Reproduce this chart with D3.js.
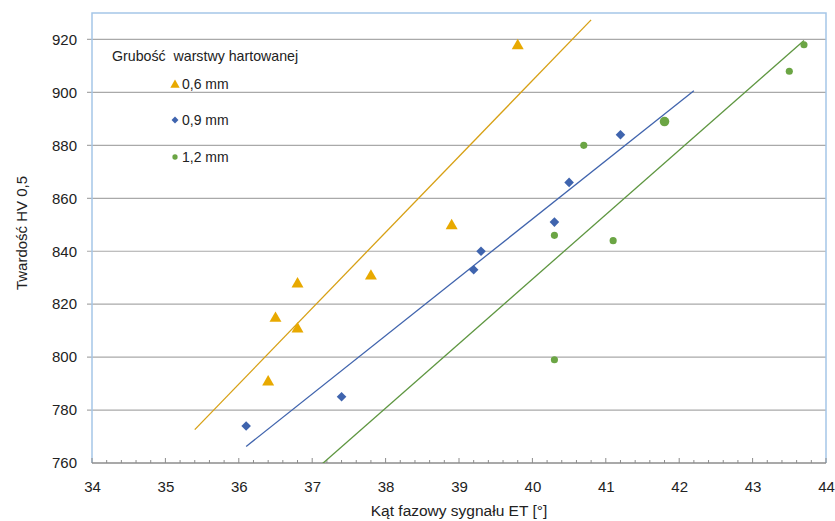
<!DOCTYPE html>
<html>
<head>
<meta charset="utf-8">
<script src="https://cdn.jsdelivr.net/npm/d3@7"></script>
<style>
  html, body { margin: 0; padding: 0; background: #fff; }
  svg { display: block; font-family: "Liberation Sans", Arial, sans-serif; }
</style>
</head>
<body>
<svg id="chart" width="835" height="521"></svg>
<script>
// Phase angle of the eddy-current signal vs. hardness, grouped by hardened layer depth
const seriesNames = ["0,6 mm", "0,9 mm", "1,2 mm"];

const angle06 = [39.8, 38.9, 37.8, 36.8, 36.5, 36.8, 36.4];
const hard06  = [918, 850, 831, 828, 815, 811, 791];

const angle09 = [36.1, 37.4, 39.2, 39.3, 40.3, 40.5, 41.2];
const hard09  = [774, 785, 833, 840, 851, 866, 884];

const angle12 = [40.3, 40.3, 40.7, 41.1, 41.8, 43.5, 43.7];
const hard12  = [799, 846, 880, 844, 889, 908, 918];

const xTicks = [34, 35, 36, 37, 38, 39, 40, 41, 42, 43, 44];
const yTicks = [760, 780, 800, 820, 840, 860, 880, 900, 920];

// Trendline extension (backward / forward) in degrees
const trendBackward = [1.0, 0.0, 4.0];
const trendForward  = [1.0, 1.0, 0.0];

const legendTitle = "Grubość  warstwy hartowanej";
const xTitle = "Kąt fazowy sygnału ET [°]";
const yTitle = "Twardość HV 0,5";

const W = 835, H = 521;
const margin = { left: 92, right: 9, top: 13, bottom: 58 };
const x = d3.scaleLinear().domain([34, 44]).range([margin.left, W - margin.right]);
const y = d3.scaleLinear().domain([760, 930]).range([H - margin.bottom, margin.top]);

const svg = d3.select("#chart");

const markerColors = ["#E8A900", "#3F64AE", "#6BA544"];
const lineColors   = ["#D7A014", "#4064AD", "#5E9640"];
const symbols = [d3.symbolTriangle, d3.symbolSquare, d3.symbolCircle];
const symbolRotation = [0, 45, 0];
const symbolSizes = [62, 46, 40];
const bigCircleArea = 72;

const series = [
  { name: seriesNames[0], xs: angle06, ys: hard06 },
  { name: seriesNames[1], xs: angle09, ys: hard09 },
  { name: seriesNames[2], xs: angle12, ys: hard12 }
];

// Horizontal gridlines
svg.append("g")
  .selectAll("line")
  .data(yTicks.slice(1))
  .join("line")
  .attr("x1", x.range()[0] - 5)
  .attr("x2", x.range()[1])
  .attr("y1", d => y(d))
  .attr("y2", d => y(d))
  .attr("stroke", "#A9A9A9")
  .attr("stroke-width", 1.2);

// Plot frame (left, top, right)
svg.append("path")
  .attr("d", `M${x.range()[0]},${y.range()[0]} V${y.range()[1]} H${x.range()[1]} V${y.range()[0]}`)
  .attr("fill", "none")
  .attr("stroke", "#A5C6E8")
  .attr("stroke-width", 1.5);

// Y-axis labels
const yAxis = d3.axisLeft(y).tickValues(yTicks).tickSize(0).tickPadding(15);
const gy = svg.append("g").attr("transform", `translate(${x.range()[0]},0)`).call(yAxis);
gy.select(".domain").remove();
gy.selectAll("text").attr("font-size", 15).attr("fill", "#222")
  .attr("font-family", "'Liberation Sans', Arial, sans-serif");

// X-axis with major and minor ticks pointing inward
const xMinor = d3.range(34, 44.001, 0.2).map(v => +v.toFixed(1));
svg.append("g")
  .selectAll("line")
  .data(xMinor)
  .join("line")
  .attr("x1", d => x(d)).attr("x2", d => x(d))
  .attr("y1", y.range()[0])
  .attr("y2", d => y.range()[0] - (Number.isInteger(d) ? 5 : 3))
  .attr("stroke", "#8C8C8C")
  .attr("stroke-width", 1);

svg.append("line")
  .attr("x1", x.range()[0]).attr("x2", x.range()[1])
  .attr("y1", y.range()[0]).attr("y2", y.range()[0])
  .attr("stroke", "#8C8C8C")
  .attr("stroke-width", 1.5);

const xAxis = d3.axisBottom(x).tickValues(xTicks).tickSize(0).tickPadding(18);
const gx = svg.append("g").attr("transform", `translate(0,${y.range()[0]})`).call(xAxis);
gx.select(".domain").remove();
gx.selectAll("text").attr("font-size", 15).attr("fill", "#222")
  .attr("font-family", "'Liberation Sans', Arial, sans-serif");

// Axis titles
svg.append("text")
  .attr("x", (x.range()[0] + x.range()[1]) / 2)
  .attr("y", 516)
  .attr("text-anchor", "middle")
  .attr("font-size", 15.5)
  .attr("fill", "#222")
  .text(xTitle);

svg.append("text")
  .attr("transform", "translate(27,233) rotate(-90)")
  .attr("text-anchor", "middle")
  .attr("font-size", 15)
  .attr("fill", "#222")
  .text(yTitle);

// Clip for trendlines
svg.append("clipPath").attr("id", "plotClip")
  .append("rect")
  .attr("x", x.range()[0]).attr("y", y.range()[1])
  .attr("width", x.range()[1] - x.range()[0])
  .attr("height", y.range()[0] - y.range()[1]);

// Least-squares linear trendlines
function linearFit(xs, ys) {
  const mx = d3.mean(xs), my = d3.mean(ys);
  let sxy = 0, sxx = 0;
  xs.forEach((v, i) => { sxy += (v - mx) * (ys[i] - my); sxx += (v - mx) ** 2; });
  const b = sxy / sxx;
  return { slope: b, intercept: my - b * mx };
}

const trendG = svg.append("g").attr("clip-path", "url(#plotClip)");
series.forEach((s, i) => {
  const fit = linearFit(s.xs, s.ys);
  const x0 = d3.min(s.xs) - trendBackward[i];
  const x1 = d3.max(s.xs) + trendForward[i];
  trendG.append("line")
    .attr("x1", x(x0)).attr("y1", y(fit.intercept + fit.slope * x0))
    .attr("x2", x(x1)).attr("y2", y(fit.intercept + fit.slope * x1))
    .attr("stroke", lineColors[i])
    .attr("stroke-width", 1.3);
});

// Data markers
const biggest = { series: 2, index: 4 };
series.forEach((s, i) => {
  const pts = s.xs.map((v, j) => ({ x: v, y: s.ys[j], j }));
  svg.append("g")
    .selectAll("path")
    .data(pts)
    .join("path")
    .attr("transform", d => `translate(${x(d.x)},${y(d.y) + (i === 0 ? 1 : 0)}) rotate(${symbolRotation[i]})`)
    .attr("d", d => d3.symbol()
      .type(symbols[i])
      .size(i === biggest.series && d.j === biggest.index ? bigCircleArea : symbolSizes[i])())
    .attr("fill", markerColors[i]);
});

// Legend
const legend = svg.append("g");
legend.append("text")
  .attr("x", 112).attr("y", 61)
  .attr("font-size", 14.2)
  .attr("fill", "#222")
  .style("white-space", "pre")
  .text(legendTitle);

const legendY = [84, 120, 157];
const legendSizes = [38, 24, 22];
series.forEach((s, i) => {
  legend.append("path")
    .attr("transform", `translate(175,${legendY[i] + (i === 0 ? 1 : 0)}) rotate(${symbolRotation[i]})`)
    .attr("d", d3.symbol().type(symbols[i]).size(legendSizes[i])())
    .attr("fill", markerColors[i]);
  legend.append("text")
    .attr("x", 182).attr("y", legendY[i])
    .attr("dy", "0.36em")
    .attr("font-size", 14)
    .attr("fill", "#222")
    .text(s.name);
});
</script>
</body>
</html>
